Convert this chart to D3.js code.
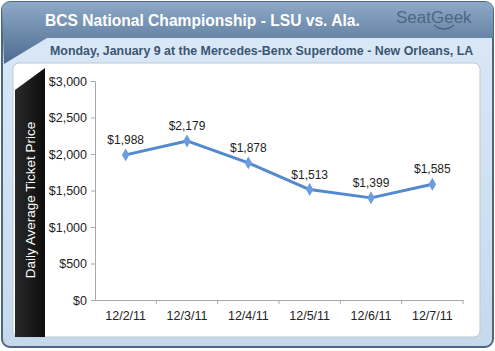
<!DOCTYPE html>
<html>
<head>
  <script src="https://d3js.org/d3.v7.min.js"></script>
  <style>
    body { margin: 0; background: #fff; font-family: 'Liberation Sans', Arial, sans-serif; }
    .tick text { font-family: 'Liberation Sans', Arial, sans-serif; }
  </style>
</head>
<body>
<div id="chart"></div>
<script>
  // data
  const dates = ["12/2/11", "12/3/11", "12/4/11", "12/5/11", "12/6/11", "12/7/11"];
  const prices = [1988, 2179, 1878, 1513, 1399, 1585];
  const yTicks = [0, 500, 1000, 1500, 2000, 2500, 3000];

  const title = "BCS National Championship - LSU vs. Ala.";
  const subtitle = "Monday, January 9 at the Mercedes-Benx Superdome - New Orleans, LA";
  const yLabel = "Daily Average Ticket Price";

  const W = 495, H = 351;
  const plot = { left: 95, right: 463, top: 81, bottom: 300 };

  const svg = d3.select("#chart").append("svg")
    .attr("width", W).attr("height", H);

  const defs = svg.append("defs");
  const hg = defs.append("linearGradient").attr("id", "hdr").attr("x1", 0).attr("y1", 0).attr("x2", 0).attr("y2", 1);
  hg.append("stop").attr("offset", "0%").attr("stop-color", "#8ea9c7");
  hg.append("stop").attr("offset", "100%").attr("stop-color", "#4c6b8f");
  const bg = defs.append("linearGradient").attr("id", "band").attr("x1", 0).attr("y1", 0).attr("x2", 1).attr("y2", 0);
  bg.append("stop").attr("offset", "0%").attr("stop-color", "#2a2a2a");
  bg.append("stop").attr("offset", "100%").attr("stop-color", "#0d0d0d");
  const fg = defs.append("linearGradient").attr("id", "frame").attr("x1", 0).attr("y1", 0).attr("x2", 0).attr("y2", 1);
  fg.append("stop").attr("offset", "0%").attr("stop-color", "#dbe9f7");
  fg.append("stop").attr("offset", "100%").attr("stop-color", "#c6d9ec");

  // outer frame
  svg.append("rect")
    .attr("x", 2).attr("y", 2).attr("width", W - 4).attr("height", H - 6)
    .attr("rx", 8).attr("fill", "url(#frame)")
    .attr("stroke", "#4d6782").attr("stroke-width", 2);

  // white chart panel
  svg.append("rect")
    .attr("x", 13).attr("y", 63).attr("width", 467).attr("height", 274)
    .attr("rx", 6).attr("fill", "#fff")
    .attr("stroke", "#b9c9d8").attr("stroke-width", 1);

  // header band with the slanted corner
  svg.append("path")
    .attr("d", `M2,10 Q2,2 10,2 L485,2 Q493,2 493,10 L493,38 L47,38 L4,64 Z`)
    .attr("fill", "url(#hdr)");

  // black y-label band
  svg.append("path")
    .attr("d", "M15,90 L45,68 L45,337 L15,337 Z")
    .attr("fill", "url(#band)");

  svg.append("text")
    .attr("x", 45).attr("y", 26)
    .attr("fill", "#fff").attr("font-size", 15.6).attr("font-weight", "bold")
    .text(title);

  svg.append("text")
    .attr("x", 396).attr("y", 23)
    .attr("fill", "#3f5670").attr("font-size", 17).attr("opacity", 0.75)
    .text("SeatGeek");
  svg.append("path")
    .attr("d", "M434,25 Q444,33 454,25")
    .attr("fill", "none").attr("stroke", "#3f5670").attr("stroke-width", 1.4).attr("opacity", 0.75);

  svg.append("text")
    .attr("x", 50).attr("y", 55)
    .attr("fill", "#3c5672").attr("font-size", 12.4).attr("font-weight", "bold")
    .text(subtitle);

  svg.append("text")
    .attr("transform", "translate(35, 200) rotate(-90)")
    .attr("text-anchor", "middle")
    .attr("fill", "#fff").attr("font-size", 13.5)
    .text(yLabel);

  // scales
  const x = d3.scaleBand().domain(dates).range([plot.left, plot.right]);
  const y = d3.scaleLinear().domain([0, 3000]).range([plot.bottom, plot.top]);

  const yAxis = svg.append("g")
    .attr("transform", `translate(${plot.left},0)`)
    .call(d3.axisLeft(y).tickValues(yTicks).tickSize(4).tickPadding(4)
      .tickFormat(d => "$" + d3.format(",")(d)));
  yAxis.selectAll("path, line").attr("stroke", "#a8a8a8");
  yAxis.selectAll("text").attr("font-size", 12.5).attr("fill", "#222");

  const xAxis = svg.append("g")
    .attr("transform", `translate(0,${plot.bottom})`)
    .call(d3.axisBottom(x).tickSize(0).tickPadding(11));
  xAxis.select(".domain").attr("stroke", "#a8a8a8");
  xAxis.selectAll("text").attr("font-size", 12.5).attr("fill", "#222");
  // ticks between categories
  xAxis.selectAll(".sep")
    .data(dates)
    .enter().append("line")
    .attr("x1", d => x(d) + x.bandwidth()).attr("x2", d => x(d) + x.bandwidth())
    .attr("y1", 0).attr("y2", 4)
    .attr("stroke", "#a8a8a8");

  const cx = d => x(d) + x.bandwidth() / 2;
  const pts = dates.map((d, i) => ({ date: d, v: prices[i] }));

  svg.append("path")
    .datum(pts)
    .attr("d", d3.line().x(d => cx(d.date)).y(d => y(d.v)))
    .attr("fill", "none").attr("stroke", "#5389cf").attr("stroke-width", 3)
    .attr("stroke-linejoin", "round");

  svg.selectAll(".pt")
    .data(pts)
    .enter().append("path")
    .attr("class", "pt")
    .attr("d", d3.symbol().type(d3.symbolDiamond).size(48))
    .attr("transform", d => `translate(${cx(d.date)},${y(d.v)})`)
    .attr("fill", "#6b9be0");

  svg.selectAll(".lbl")
    .data(pts)
    .enter().append("text")
    .attr("x", d => cx(d.date)).attr("y", d => y(d.v) - 11)
    .attr("text-anchor", "middle")
    .attr("font-size", 12).attr("fill", "#222")
    .text(d => "$" + d3.format(",")(d.v));
</script>
</body>
</html>
